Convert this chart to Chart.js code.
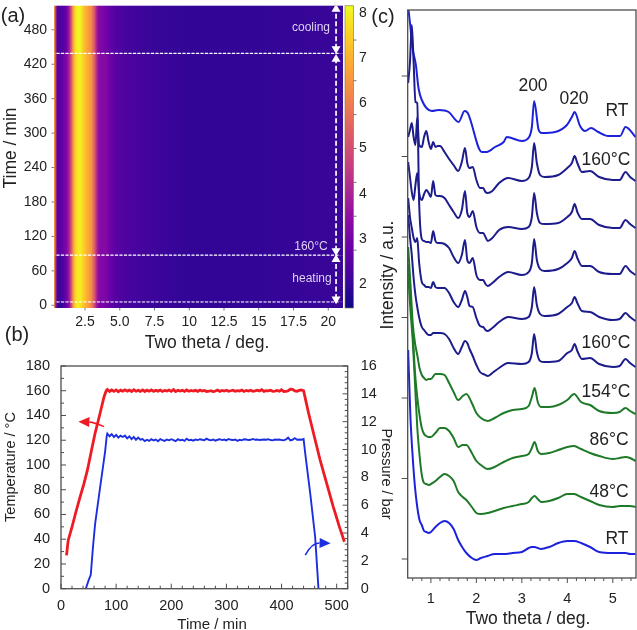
<!doctype html>
<html lang="en">
<head>
<meta charset="utf-8">
<title>Heating and cooling series</title>
<style>
    * { margin: 0; padding: 0; }
    html, body { width: 637px; height: 630px; background: #fff; overflow: hidden; }
    body { position: relative; font-family: "Liberation Sans", sans-serif; color: #222; }
    canvas { position: absolute; }
    .lbl { position: absolute; white-space: nowrap; transform: translate(-50%, -50%); }
    .rotL { transform: translate(-50%, -50%) rotate(-90deg); }
    .rotR { transform: translate(-50%, -50%) rotate(90deg); }
    .on { font-size: 12px; color: #dfd3f2; }
    .big { font-size: 17.5px; }
    .mid { font-size: 14.5px; }
    .pan { font-size: 20px; }
</style>
</head>
<body>
<canvas id="heat" width="395" height="335" style="left:0;top:0"></canvas>
<canvas id="ramp" width="398" height="280" style="left:0;top:350px"></canvas>
<canvas id="xrd" width="262" height="630" style="left:375px;top:0"></canvas>

<div class="lbl pan" style="left:13px;top:15px">(a)</div>
<div class="lbl pan" style="left:17px;top:334px">(b)</div>
<div class="lbl pan" style="left:383px;top:16px">(c)</div>
<div class="lbl big rotL" style="left:10px;top:148px">Time / min</div>
<div class="lbl big" style="left:207px;top:342px">Two theta / deg.</div>
<div class="lbl on" style="left:311px;top:27px">cooling</div>
<div class="lbl on" style="left:311px;top:246px">160°C</div>
<div class="lbl on" style="left:312px;top:278px">heating</div>
<div class="lbl mid rotL" style="left:10px;top:467px">Temperature / °C</div>
<div class="lbl mid rotR" style="left:387px;top:474px">Pressure / bar</div>
<div class="lbl" style="left:212px;top:623px;font-size:15px">Time / min</div>
<div class="lbl big rotL" style="left:387px;top:275px">Intensity / a.u.</div>
<div class="lbl big" style="left:528px;top:618px">Two theta / deg.</div>
<div class="lbl big" style="left:533px;top:85px">200</div>
<div class="lbl big" style="left:574px;top:98px">020</div>
<div class="lbl big" style="left:617px;top:110px">RT</div>
<div class="lbl big" style="left:606px;top:159px">160°C</div>
<div class="lbl big" style="left:606px;top:342px">160°C</div>
<div class="lbl big" style="left:606px;top:391px">154°C</div>
<div class="lbl big" style="left:609px;top:439px">86°C</div>
<div class="lbl big" style="left:609px;top:491px">48°C</div>
<div class="lbl big" style="left:617px;top:538px">RT</div>

<script src="https://cdn.jsdelivr.net/npm/chart.js"></script>
<script>
    // (a) heatmap: log intensity per two theta column, one row per time band
    const heatTheta = [0.27, 0.38, 0.5, 0.7, 0.95, 1.2, 1.35, 1.5, 1.65, 1.8, 1.95, 2.15, 2.4, 2.65, 2.95, 3.2, 3.4, 3.55, 3.95, 4.3, 4.7, 5.5, 7, 10, 14, 18, 21.06];
    const bandEdges = [-4.7, 6, 87.4, 439, 522];
    const heatBand0 = [7.0, 4.0, 2.1, 1.9, 2.2, 2.8, 3.4, 4.6, 6.6, 7.7, 8.0, 7.9, 7.3, 6.8, 6.2, 4.8, 3.5, 3.1, 3.0, 2.7, 2.4, 2.2, 2.05, 1.95, 1.95, 2.0, 2.05];
    const heatBand1 = [7.0, 4.4, 2.2, 2.1, 2.4, 2.95, 3.7, 4.9, 6.6, 7.55, 7.95, 8.0, 7.45, 6.95, 6.35, 5.05, 3.65, 3.25, 3.15, 2.8, 2.45, 2.25, 2.1, 1.95, 1.95, 2.0, 2.05];
    const heatBand2 = [7.0, 5.0, 2.6, 2.5, 2.9, 3.2, 4.0, 5.0, 6.5, 7.4, 7.9, 8.0, 7.5, 7.0, 6.5, 5.2, 3.8, 3.3, 3.3, 2.9, 2.55, 2.35, 2.15, 1.95, 1.95, 2.0, 2.05];
    const heatBand3 = [7.0, 4.6, 2.4, 2.3, 2.5, 2.9, 3.8, 5.0, 6.8, 7.7, 8.1, 8.1, 7.3, 6.8, 6.3, 5.0, 3.6, 3.2, 3.0, 2.7, 2.4, 2.2, 2.05, 1.95, 1.95, 2.0, 2.05];
    const heatRows = [heatBand0, heatBand1, heatBand2, heatBand3];
    const plasmaStops = ['#0d0887', '#41049d', '#6a00a8', '#8f0da4', '#b12a90', '#cc4778', '#e16462', '#f2844b', '#fca636', '#fcce25', '#f0f921'];
    const heatThetaTicks = [2.5, 5, 7.5, 10, 12.5, 15, 17.5, 20];
    const heatThetaLabels = ['2.5', '5.0', '7.5', '10', '12.5', '15', '17.5', '20'];
    const timeTicks = [0, 60, 120, 180, 240, 300, 360, 420, 480];
    const barTicks = [2, 3, 4, 5, 6, 7, 8];
    const barMarks = [2.75, 3.5, 4.25, 5, 5.75, 6.5, 7.4];
    const phaseTimes = [5.7, 87.4, 439];
    const phaseTheta = [0.45, 20.85];
    const arrowTheta = 20.56;
    const arrowSpans = [[11, 80], [95, 429], [447, 516]];

    // (b) temperature and pressure logs
    const tempRiseTime = [10, 13, 20, 27, 34.5, 41, 48, 54, 62, 71, 78, 82];
    const tempRise = [27, 39, 50, 62, 74, 84, 96, 109, 126, 142, 155, 160];
    const plateauTime = [84, 88, 92, 96, 100, 104, 108, 112, 116, 120,
        124, 128, 132, 136, 140, 144, 148, 152, 156, 160,
        164, 168, 172, 176, 180, 184, 188, 192, 196, 200,
        204, 208, 212, 216, 220, 224, 228, 232, 236, 240,
        244, 248, 252, 256, 260, 264, 268, 272, 276, 280,
        284, 288, 292, 296, 300, 304, 308, 312, 316, 320,
        324, 328, 332, 336, 340, 344, 348, 352, 356, 360,
        364, 368, 372, 376, 380, 384, 388, 392, 396, 400,
        404, 408, 412, 416, 420, 424, 428, 432, 436, 440];
    const tempPlateau = [161, 159.4, 160.6, 159.5, 160.7, 159.2, 160.5, 159.6, 160.7, 159.7,
        160.5, 159.4, 160.8, 159.6, 160.3, 159.5, 160.7, 159.4, 160.5, 159.6,
        160.7, 159.4, 160.3, 159.7, 160.6, 159.4, 160.2, 159.7, 160.6, 159.5,
        160.9, 159.3, 160.4, 159.7, 160.3, 159.4, 160.6, 159.6, 160.2, 159.7,
        160.3, 159.5, 160.6, 159.7, 160.2, 159.3, 159.6, 160.1, 159.2, 159.8,
        160.6, 159.5, 160.3, 159.8, 160.4, 159.5, 160, 160.5, 159.6, 160.1,
        159.8, 160.6, 159.4, 160.2, 159.7, 160.4, 159.6, 159.9, 160.5, 159.8,
        160.9, 159.5, 160.1, 159.9, 160.4, 159.5, 159.7, 160.2, 159.6, 160.8,
        159.4, 159.5, 160, 161.2, 161.1, 159.8, 159.6, 160.3, 160.6, 160];
    const tempFallTime = [445, 449, 460, 470, 482, 494, 505, 514];
    const tempFall = [150, 142, 122, 104, 85, 66, 50, 38];
    const pressRiseTime = [45, 50, 54, 58, 62, 71, 80, 83];
    const pressRise = [0, 0.6, 1, 3, 4.7, 7.3, 9.85, 11];
    const pressPlateau = [11.15, 10.95, 11.1, 10.9, 11.05, 10.85, 11, 10.9, 11, 10.8,
        10.95, 10.75, 10.9, 10.7, 10.85, 10.7, 10.75, 10.6, 10.7, 10.62,
        10.75, 10.65, 10.72, 10.6, 10.75, 10.68, 10.62, 10.72, 10.66, 10.74,
        10.68, 10.6, 10.74, 10.66, 10.7, 10.62, 10.78, 10.66, 10.7, 10.64,
        10.72, 10.68, 10.74, 10.7, 10.66, 10.78, 10.7, 10.66, 10.72, 10.64,
        10.7, 10.74, 10.68, 10.72, 10.66, 10.76, 10.7, 10.68, 10.72, 10.62,
        10.7, 10.66, 10.74, 10.72, 10.68, 10.7, 10.76, 10.7, 10.72, 10.68,
        10.7, 10.72, 10.7, 10.74, 10.68, 10.66, 10.72, 10.7, 10.72, 10.68,
        10.66, 10.72, 10.85, 10.66, 10.7, 10.82, 10.7, 10.72, 10.7, 10.75];
    const pressFallTime = [443, 452, 461, 467];
    const pressFall = [9.7, 6.85, 3.7, 0];
    const rampTimeTicks = [0, 100, 200, 300, 400, 500];
    const rampTimeMinor = [20, 40, 60, 80, 120, 140, 160, 180, 220, 240, 260, 280, 320, 340, 360, 380, 420, 440, 460, 480, 520];
    const tempTicks = [0, 20, 40, 60, 80, 100, 120, 140, 160, 180];
    const tempMinor = [10, 30, 50, 70, 90, 110, 130, 150, 170];
    const pressTicks = [0, 2, 4, 6, 8, 10, 12, 14, 16];
    const pressMinor = [0.4, 0.8, 1.2, 1.6, 2.4, 2.8, 3.2, 3.6, 4.4, 4.8, 5.2, 5.6, 6.4, 6.8, 7.2, 7.6, 8.4, 8.8, 9.2, 9.6, 10.4, 10.8, 11.2, 11.6, 12.4, 12.8, 13.2, 13.6, 14.4, 14.8, 15.2, 15.6];
    const tempArrow = [[78, 131], [60, 134.5], [31.5, 135]];
    const pressArrow = [[443, 2.42], [455, 3.3], [489, 3.26]];

    // (c) diffraction patterns, a.u. with stacked offsets
    const thetaTop = [0.508, 0.545, 0.596, 0.67, 0.727, 0.8, 1.02, 1.17, 1.39, 1.61, 1.74, 1.81, 2.12, 2.23, 2.41, 2.6, 2.67, 3, 3.16, 3.22, 3.27, 3.37, 3.44, 3.73, 3.99, 4.1, 4.16, 4.28, 4.39, 4.52, 4.68, 4.9, 5.16, 5.28, 5.5];
    const patternRtEnd = [549, 534, 511, 494, 471, 459, 448, 449, 447, 437, 448, 446, 407, 407, 412, 417, 422, 418, 422, 432, 458, 429, 426, 427, 434, 442, 447, 433, 428, 431, 427, 423, 423, 432, 422];

    const thetaHold = [0.5, 0.54, 0.58, 0.62, 0.66, 0.7, 0.74, 0.8,
        0.85, 0.9, 0.95, 1, 1.05, 1.1, 1.15, 1.2,
        1.3, 1.4, 1.5, 1.6, 1.68, 1.75, 1.8, 1.85, 1.92, 2,
        2.08, 2.15, 2.2, 2.25, 2.35,
        2.5, 2.7, 3, 3.15, 3.22, 3.27, 3.33, 3.4, 3.5, 3.8,
        4, 4.1, 4.16, 4.22, 4.32, 4.5, 4.7, 5, 5.15, 5.28, 5.38, 5.5];
    const patternHold4 = [422, 429, 436, 422, 414, 442, 414, 412,
        422, 428, 417, 410, 417, 412, 413, 413,
        407, 400, 394, 388, 397, 411, 396, 391, 392, 379,
        371, 371, 367, 366, 368,
        376, 381, 378, 381, 392, 416, 396, 384, 382, 384,
        391, 396, 403, 396, 387, 388, 382, 379, 379, 387, 382, 378];
    const patternHold3 = [397, 382, 367, 359, 374, 386, 367, 359,
        365, 369, 366, 362, 378, 364, 363, 363,
        361, 354, 347, 341, 349, 368, 346, 342, 348, 332,
        326, 326, 322, 318, 321,
        329, 332, 330, 332, 342, 366, 346, 336, 335, 336,
        342, 347, 355, 347, 340, 340, 334, 331, 331, 339, 335, 331];
    const patternHold2 = [476, 497, 534, 497, 457, 456, 359, 320,
        318, 317, 317, 316, 328, 318, 316, 316,
        315, 311, 302, 296, 304, 319, 299, 296, 301, 284,
        279, 279, 275, 273, 276,
        282, 287, 284, 287, 296, 320, 299, 290, 288, 290,
        296, 301, 308, 301, 293, 293, 287, 285, 285, 293, 288, 284];
    const patternHold1 = [361, 342, 331, 321, 317, 321, 297, 277,
        274, 272, 272, 271, 277, 272, 271, 271,
        271, 266, 257, 252, 259, 268, 262, 253, 252, 241,
        233, 232, 229, 228, 231,
        237, 242, 240, 242, 252, 272, 254, 245, 243, 245,
        252, 256, 262, 256, 248, 247, 242, 239, 240, 246, 242, 238];
    const patternHold0 = [344, 322, 304, 281, 264, 252, 242, 232,
        229, 226, 224, 224, 226, 226, 226, 226,
        225, 220, 211, 205, 212, 218, 216, 210, 203, 194,
        187, 185, 184, 183, 186,
        191, 196, 195, 197, 206, 225, 207, 198, 197, 198,
        206, 209, 215, 208, 200, 201, 195, 192, 193, 200, 196, 192];

    const thetaRise = [0.5, 0.55, 0.6, 0.65, 0.7, 0.75, 0.8, 0.85, 0.9, 0.95, 1,
        1.1, 1.2, 1.3, 1.4, 1.5, 1.6, 1.7, 1.78, 1.9, 2, 2.1, 2.25, 2.4, 2.6, 2.8, 3,
        3.15, 3.22, 3.28, 3.35, 3.42, 3.6, 3.8, 4, 4.15, 4.3, 4.5, 4.7, 5, 5.15, 5.28, 5.38, 5.5];
    const pattern154 = [312, 276, 236, 216, 204, 191, 184, 181, 179, 180, 180,
        185, 185, 184, 176, 167, 159, 163, 165, 156, 146, 141, 138, 141, 146, 149, 150,
        153, 162, 171, 157, 152, 152, 154, 159, 165, 157, 154, 148, 146, 147, 151, 148, 145];
    const pattern86 = [295, 262, 226, 187, 162, 144, 131, 125, 123, 122, 122,
        126, 131, 131, 128, 121, 112, 114, 114, 106, 98, 94, 90, 92, 97, 101, 103,
        105, 111, 117, 108, 105, 106, 109, 112, 113, 110, 106, 103, 100, 101, 102, 101, 98];
    const pattern48 = [285, 249, 219, 176, 132, 104, 84, 76, 75, 74, 75,
        78, 82, 85, 83, 78, 67, 62, 59, 52, 46, 45, 46, 48, 51, 53, 55,
        57, 61, 63, 60, 57, 58, 61, 65, 65, 62, 58, 54, 52, 53, 53, 53, 52];
    const patternRtStart = [209, 142, 102, 72, 52, 39, 34, 28, 27, 26, 27,
        32, 36, 38, 36, 30, 19, 11, 6, 1, -1, 1, 3, 5, 5, 6, 7,
        11, 12, 12, 11, 10, 12, 16, 18, 18, 16, 12, 7, 6, 6, 6, 5, 5];

    const xrdThetaTicks = [1, 2, 3, 4, 5];
    const xrdThetaMinor = [0.6, 0.8, 1.2, 1.4, 1.6, 1.8, 2.2, 2.4, 2.6, 2.8, 3.2, 3.4, 3.6, 3.8, 4.2, 4.4, 4.6, 4.8, 5.2, 5.4];
    const intensityTicks = [0, 80.5, 161, 241.5, 322, 402.5, 483];

    const FONT = 'Liberation Sans';
    const RED = '#ee1b24';
    const BLUE = '#1b2fe0';
    const NAVY = '#1c1c8c';
    const GREEN = '#1f7a28';
    const BRIGHT = '#1c22dc';
    const FRAME = '#4d4d4d';
    const INK = '#222';

    const pts = (xs, ys) => xs.map((x, i) => ({x, y: ys[i]}));
    const fixedTicks = (vals) => (s) => { s.ticks = vals.map((value) => ({value})); };
    // fix an axis box to a set size and drop the label overhang the layout would add
    const fitWidth = (w) => (s) => { s.width = w; s.paddingTop = s.paddingBottom = s.paddingLeft = s.paddingRight = 0; };
    const fitHeight = (h) => (s) => { s.height = h; s.paddingTop = s.paddingBottom = s.paddingLeft = s.paddingRight = 0; };

    // colour of an intensity on the colour bar
    function plasma(v, scale) {
        const f = Math.min(1, Math.max(0, (v - scale.min) / (scale.max - scale.min))) * (plasmaStops.length - 1);
        const i = Math.min(plasmaStops.length - 2, Math.floor(f));
        const hex = (c, k) => parseInt(c.substr(1 + k * 2, 2), 16);
        const mix = [0, 1, 2].map((k) => Math.round(hex(plasmaStops[i], k) + (hex(plasmaStops[i + 1], k) - hex(plasmaStops[i], k)) * (f - i)));
        return `rgb(${mix.join(',')})`;
    }

    // tick marks along one side; sign 1 goes into the plot, -1 out of it
    function marks(ctx, scale, vals, len, sign) {
        ctx.beginPath();
        for (const v of vals) {
            const p = scale.getPixelForValue(v);
            if (scale.isHorizontal()) {
                const y0 = scale.position === 'bottom' ? scale.top : scale.bottom;
                ctx.moveTo(p, y0);
                ctx.lineTo(p, y0 - sign * len);
            } else {
                const x0 = scale.position === 'left' ? scale.right : scale.left;
                const dir = scale.position === 'left' ? 1 : -1;
                ctx.moveTo(x0, p);
                ctx.lineTo(x0 + dir * sign * len, p);
            }
        }
        ctx.stroke();
    }

    function frame(chart, color, width) {
        const {ctx, chartArea: a} = chart;
        ctx.save();
        ctx.strokeStyle = color;
        ctx.lineWidth = width;
        ctx.strokeRect(a.left, a.top, a.right - a.left, a.bottom - a.top);
        ctx.restore();
    }

    // curved arrow with a filled head, points given in data values
    function curvedArrow(ctx, xs, ys, p, color) {
        const q = p.map(([a, b]) => [xs.getPixelForValue(a), ys.getPixelForValue(b)]);
        const ang = Math.atan2(q[2][1] - q[1][1], q[2][0] - q[1][0]);
        const hx = q[2][0] - 11 * Math.cos(ang), hy = q[2][1] - 11 * Math.sin(ang);
        ctx.save();
        ctx.strokeStyle = color;
        ctx.fillStyle = color;
        ctx.lineWidth = 1.6;
        ctx.beginPath();
        ctx.moveTo(q[0][0], q[0][1]);
        ctx.quadraticCurveTo(q[1][0], q[1][1], hx, hy);
        ctx.stroke();
        ctx.beginPath();
        ctx.moveTo(q[2][0], q[2][1]);
        ctx.lineTo(hx + 5 * Math.sin(ang), hy - 5 * Math.cos(ang));
        ctx.lineTo(hx - 5 * Math.sin(ang), hy + 5 * Math.cos(ang));
        ctx.closePath();
        ctx.fill();
        ctx.restore();
    }

    Chart.defaults.font.family = FONT;
    Chart.defaults.color = INK;
    Chart.defaults.animation = false;

    const quiet = {display: false, drawTicks: false};
    const baseOptions = (padding, scales) => ({
        responsive: false,
        events: [],
        layout: {padding},
        plugins: {legend: {display: false}, tooltip: {enabled: false}},
        elements: {point: {radius: 0}},
        scales,
    });

    // heatmap cells and colour bar, painted under the phase lines
    const heatLayer = {
        id: 'heatLayer',
        beforeDatasetsDraw(chart) {
            const {ctx, chartArea: a, scales: {x, y, bar}} = chart;
            ctx.save();
            heatRows.forEach((row, r) => {
                const g = ctx.createLinearGradient(a.left, 0, a.right, 0);
                row.forEach((v, i) => {
                    const off = (x.getPixelForValue(heatTheta[i]) - a.left) / (a.right - a.left);
                    g.addColorStop(Math.min(1, Math.max(0, off)), plasma(v, bar));
                });
                const top = y.getPixelForValue(bandEdges[r + 1]);
                const bottom = y.getPixelForValue(bandEdges[r]);
                ctx.fillStyle = g;
                ctx.fillRect(a.left, top, a.right - a.left, bottom - top);
            });

            const bx = bar.left + 2, bw = 8.5;
            const cg = ctx.createLinearGradient(0, bar.bottom, 0, bar.top);
            plasmaStops.forEach((c, i) => cg.addColorStop(i / (plasmaStops.length - 1), c));
            ctx.fillStyle = cg;
            ctx.fillRect(bx, bar.top, bw, bar.bottom - bar.top);
            ctx.strokeStyle = 'rgba(125,125,70,0.8)';
            ctx.lineWidth = 0.8;
            ctx.strokeRect(bx, bar.top, bw, bar.bottom - bar.top);

            ctx.strokeStyle = '#777';
            ctx.lineWidth = 1;
            marks(ctx, y, timeTicks, 2.5, -1);
            marks(ctx, x, heatThetaTicks, 2.5, -1);
            ctx.beginPath();
            for (const v of barMarks) {
                const p = bar.getPixelForValue(v);
                ctx.moveTo(bx + bw, p);
                ctx.lineTo(bx + bw + 3, p);
            }
            ctx.stroke();
            ctx.restore();
        },
    };

    const phaseSets = phaseTimes.map((t) => ({
        data: pts(phaseTheta, [t, t]),
        showLine: true,
        borderColor: '#fff',
        borderWidth: 1.1,
        borderDash: [3, 1.5],
    }));
    const spanSets = arrowSpans.map((span) => ({
        data: pts([arrowTheta, arrowTheta], span),
        showLine: true,
        borderColor: '#fff',
        backgroundColor: '#fff',
        borderWidth: 1.7,
        borderDash: [5, 2.5],
        pointStyle: 'triangle',
        pointRadius: 3.5,
        pointRotation: [180, 0],
    }));

    new Chart(document.getElementById('heat'), {
        type: 'scatter',
        data: {datasets: [...phaseSets, ...spanSets]},
        options: baseOptions({top: 5, right: 20, left: 0, bottom: 0}, {
            x: {
                type: 'linear', position: 'bottom', min: 0.27, max: 21.06,
                grid: quiet, border: {display: false},
                afterFit: fitHeight(27),
                afterBuildTicks: fixedTicks(heatThetaTicks),
                ticks: {font: {size: 14}, padding: 6, maxRotation: 0, autoSkip: false,
                    callback: (v) => heatThetaLabels[heatThetaTicks.indexOf(v)]},
            },
            y: {
                type: 'linear', position: 'left', min: -4.7, max: 522,
                grid: quiet, border: {display: false},
                afterFit: fitWidth(54),
                afterBuildTicks: fixedTicks(timeTicks),
                ticks: {font: {size: 14}, padding: 7, autoSkip: false},
            },
            bar: {
                type: 'linear', position: 'right', min: 1.47, max: 8.16,
                grid: quiet, border: {display: false},
                afterFit: fitWidth(32),
                afterBuildTicks: fixedTicks(barTicks),
                ticks: {font: {size: 14}, padding: 16, autoSkip: false},
            },
        }),
        plugins: [heatLayer],
    });

    // frame, inward ticks and the two direction arrows
    const rampLayer = {
        id: 'rampLayer',
        afterDatasetsDraw(chart) {
            const {ctx, scales: {x, y, press}} = chart;
            frame(chart, FRAME, 1.3);
            ctx.save();
            ctx.strokeStyle = FRAME;
            ctx.lineWidth = 1;
            marks(ctx, x, rampTimeTicks, 5, 1);
            marks(ctx, x, rampTimeMinor, 3, 1);
            marks(ctx, y, tempTicks, 5, 1);
            marks(ctx, y, tempMinor, 3, 1);
            marks(ctx, press, pressTicks, 5, 1);
            marks(ctx, press, pressMinor, 3, 1);
            ctx.restore();
            curvedArrow(ctx, x, y, tempArrow, RED);
            curvedArrow(ctx, x, press, pressArrow, BLUE);
        },
    };

    new Chart(document.getElementById('ramp'), {
        type: 'scatter',
        data: {datasets: [
            {
                data: [...pts(tempRiseTime, tempRise), ...pts(plateauTime, tempPlateau), ...pts(tempFallTime, tempFall)],
                showLine: true, borderColor: RED, borderWidth: 2.8, xAxisID: 'x', yAxisID: 'y',
            },
            {
                data: [...pts(pressRiseTime, pressRise), ...pts(plateauTime, pressPlateau), ...pts(pressFallTime, pressFall)],
                showLine: true, borderColor: BLUE, borderWidth: 1.9, xAxisID: 'x', yAxisID: 'press',
            },
        ]},
        options: baseOptions({top: 16, right: 0, left: 0, bottom: 0}, {
            x: {
                type: 'linear', position: 'bottom', min: 0, max: 520,
                grid: quiet, border: {display: false},
                afterFit: fitHeight(41.3),
                afterBuildTicks: fixedTicks(rampTimeTicks),
                ticks: {font: {size: 14.5}, padding: 9, maxRotation: 0, autoSkip: false},
            },
            y: {
                type: 'linear', position: 'left', min: 0, max: 180,
                grid: quiet, border: {display: false},
                afterFit: fitWidth(61),
                afterBuildTicks: fixedTicks(tempTicks),
                ticks: {font: {size: 14.5}, padding: 11, autoSkip: false},
            },
            press: {
                type: 'linear', position: 'right', min: 0, max: 16,
                grid: quiet, border: {display: false},
                afterFit: fitWidth(50.3),
                afterBuildTicks: fixedTicks(pressTicks),
                ticks: {font: {size: 14.5}, padding: 13, autoSkip: false},
            },
        }),
        plugins: [rampLayer],
    });

    const xrdLayer = {
        id: 'xrdLayer',
        afterDatasetsDraw(chart) {
            const {ctx, scales: {x, y}} = chart;
            frame(chart, FRAME, 1.3);
            ctx.save();
            ctx.strokeStyle = FRAME;
            ctx.lineWidth = 1;
            marks(ctx, x, xrdThetaTicks, 5, -1);
            marks(ctx, x, xrdThetaMinor, 3, -1);
            marks(ctx, y, intensityTicks, 6, -1);
            ctx.restore();
        },
    };

    const pattern = (xs, ys, color) => ({
        data: pts(xs, ys),
        showLine: true,
        borderColor: color,
        borderWidth: 2,
        cubicInterpolationMode: 'monotone',
    });

    new Chart(document.getElementById('xrd'), {
        type: 'scatter',
        data: {datasets: [
            pattern(thetaRise, patternRtStart, BRIGHT),
            pattern(thetaRise, pattern48, GREEN),
            pattern(thetaRise, pattern86, GREEN),
            pattern(thetaRise, pattern154, GREEN),
            pattern(thetaHold, patternHold0, NAVY),
            pattern(thetaHold, patternHold1, NAVY),
            pattern(thetaHold, patternHold2, NAVY),
            pattern(thetaHold, patternHold3, NAVY),
            pattern(thetaHold, patternHold4, NAVY),
            pattern(thetaTop, patternRtEnd, BRIGHT),
        ]},
        options: baseOptions({top: 10, right: 1, left: 0, bottom: 0}, {
            x: {
                type: 'linear', position: 'bottom', min: 0.49, max: 5.51,
                grid: quiet, border: {display: false},
                afterFit: fitHeight(52),
                afterBuildTicks: fixedTicks(xrdThetaTicks),
                ticks: {font: {size: 14.5}, padding: 12, maxRotation: 0, autoSkip: false},
            },
            y: {
                type: 'linear', position: 'left', min: -19, max: 549,
                grid: quiet, border: {display: false},
                afterFit: fitWidth(32.7),
                afterBuildTicks: fixedTicks(intensityTicks),
                ticks: {display: false},
            },
        }),
        plugins: [xrdLayer],
    });
</script>
</body>
</html>
